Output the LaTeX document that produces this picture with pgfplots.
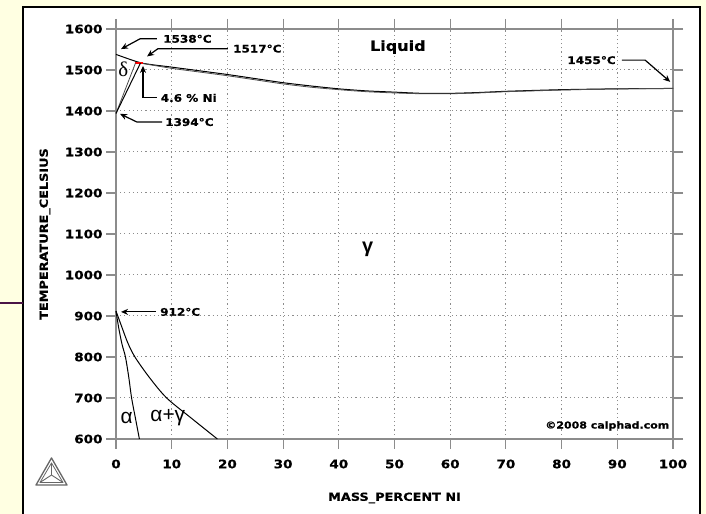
\documentclass[border=0pt]{standalone}
\usepackage{pgfplots}
\pgfplotsset{compat=1.18}
\usepackage{fontspec}
\setmainfont[FakeStretch=1.15, BoldFeatures={FakeBold=0.6}]{DejaVu Sans}
\newfontfamily\grk{Liberation Sans}
\newfontfamily\grkserif{Liberation Serif}
\usetikzlibrary{arrows.meta}
\definecolor{cream}{RGB}{255,255,226}
\definecolor{slidepurple}{RGB}{74,20,70}
\definecolor{axgray}{RGB}{140,140,140}
\begin{document}
\begin{tikzpicture}[x=1bp,y=1bp]
\useasboundingbox (-116,-75) rectangle (590,439);
\fill[cream] (-116,-75) rectangle (590,439);
\fill[white] (-93,-76) rectangle (584,432);
\draw[black, line width=2bp] (-93,-76) -- (-93,432) -- (584,432) -- (584,-76);
\draw[slidepurple, line width=2.2bp] (-116,136) -- (-93,136);
% Thermo-Calc style logo
\draw[gray!80!black, line width=1.3bp, line join=round] (-64.5,-19) -- (-80,-46) -- (-49,-46) -- cycle;
\draw[gray!80!black, line width=0.8bp, line join=round] (-64.5,-24) -- (-76,-43.5) -- (-53,-43.5) -- cycle;
\draw[gray!80!black, line width=0.9bp] (-64.5,-36) -- (-64.5,-24) (-64.5,-36) -- (-76,-43.5) (-64.5,-36) -- (-53,-43.5);
\begin{axis}[
  at={(0,0)}, anchor=south west,
  scale only axis, width=557bp, height=410bp,
  xmin=0, xmax=100, ymin=600, ymax=1600,
  xtick={0,10,...,100}, ytick={600,700,...,1600},
  grid=major,
  grid style={axgray, line width=1bp, dash pattern=on 1.1bp off 3.1bp},
  axis line style={axgray, line width=1.1bp},
  tick style={axgray, line width=1.1bp},
  tick align=outside, major tick length=10bp,
  /pgf/number format/assume math mode=true,
  /pgf/number format/set thousands separator={},
  ticklabel style={font=\bfseries\fontsize{11.8}{13}\selectfont, text=black},
  xticklabel style={yshift=-7bp},
  xlabel={MASS\_PERCENT NI},
  ylabel={TEMPERATURE\_CELSIUS},
  xlabel style={font=\bfseries\fontsize{11.2}{13}\selectfont, at={(rel axis cs:0.5,0)}, anchor=center, yshift=-59bp},
  ylabel style={font=\bfseries\fontsize{11.2}{13}\selectfont, at={(rel axis cs:0,0.5)}, anchor=center, yshift=71bp},
  clip=false,
]
% liquidus
\addplot[black, line width=1bp, smooth, tension=0.4] coordinates {
 (0,1538) (4.6,1517) (10,1507) (15,1498) (20,1489) (25,1479) (30,1469) (35,1461)
 (40,1454) (45,1449) (50,1446) (55,1443) (60,1443) (65,1445) (70,1448) (80,1452) (90,1454) (100,1455)};
% solidus
\addplot[black!70, line width=0.8bp, smooth, tension=0.4] coordinates {
 (4.3,1517) (10,1504) (15,1495) (20,1486) (25,1476) (30,1466) (35,1458) (40,1452)
 (45,1447) (50,1444) (55,1442) (60,1442) (65,1444) (70,1447) (80,1451) (90,1454) (100,1455)};
% peritectic
\addplot[red, line width=1.2bp] coordinates {(3.4,1517) (4.9,1517)};
% delta boundaries
\addplot[black!70, line width=0.8bp] coordinates {(0,1394) (3.5,1517)};
\addplot[black, line width=1bp] coordinates {(0,1394) (4.4,1517)};
% alpha boundary
\addplot[black, line width=1bp, smooth, tension=0.5] coordinates {
 (0,912) (0.5,870) (1.1,830) (1.7,800) (2.3,750) (2.8,700) (3.5,650) (4.2,600)};
% gamma boundary
\addplot[black, line width=1bp, smooth, tension=0.5] coordinates {
 (0,912) (1.0,875) (2.1,835) (3.4,800) (6,750) (9.1,700) (13.6,650) (18.2,600)};
% annotations
\tikzset{anno/.style={font=\bfseries\fontsize{10.5}{12}\selectfont, inner sep=0pt, anchor=west},
         arr/.style={-{Stealth[length=7bp,width=6bp]}, line width=1.2bp, black}}
\draw[arr] (axis cs:7.36,1576) -- (axis cs:4.31,1576) -- (axis cs:0.9,1551);
\node[anno] at (axis cs:8.44,1576) {1538°C};
\draw[arr] (axis cs:20.1,1552) -- (axis cs:7.54,1552) -- (axis cs:5.57,1533);
\node[anno] at (axis cs:21.0,1552) {1517°C};
\draw[arr] (axis cs:7.36,1432) -- (axis cs:4.85,1432) -- (axis cs:4.85,1510);
\node[anno] at (axis cs:8.0,1432) {4.6 \% Ni};
\draw[arr] (axis cs:8.26,1373) -- (axis cs:3.77,1373) -- (axis cs:0.72,1393);
\node[anno] at (axis cs:8.8,1373) {1394°C};
\draw[arr] (axis cs:90.8,1524) -- (axis cs:95.0,1524) -- (axis cs:99.5,1471);
\node[anno] at (axis cs:81.0,1524) {1455°C};
\draw[arr] (axis cs:7.18,910) -- (axis cs:0.9,910);
\node[anno] at (axis cs:7.9,910) {912°C};
\node[font=\bfseries\fontsize{14}{16}\selectfont] at (axis cs:50.6,1556) {Liquid};
\node[font=\grk\bfseries\fontsize{20}{22}\selectfont] at (axis cs:45.2,1063) {γ};
\node[font=\grkserif\fontsize{21}{22}\selectfont] at (axis cs:1.3,1502) {δ};
\node[font=\grk\fontsize{21}{22}\selectfont] at (axis cs:1.9,651) {α};
\node[font=\grk\fontsize{21}{22}\selectfont] at (axis cs:9.3,651) {α+γ};
\node[font=\bfseries\fontsize{9.6}{11}\selectfont] at (axis cs:88.2,632) {©2008 calphad.com};
\end{axis}
\end{tikzpicture}
\end{document}
